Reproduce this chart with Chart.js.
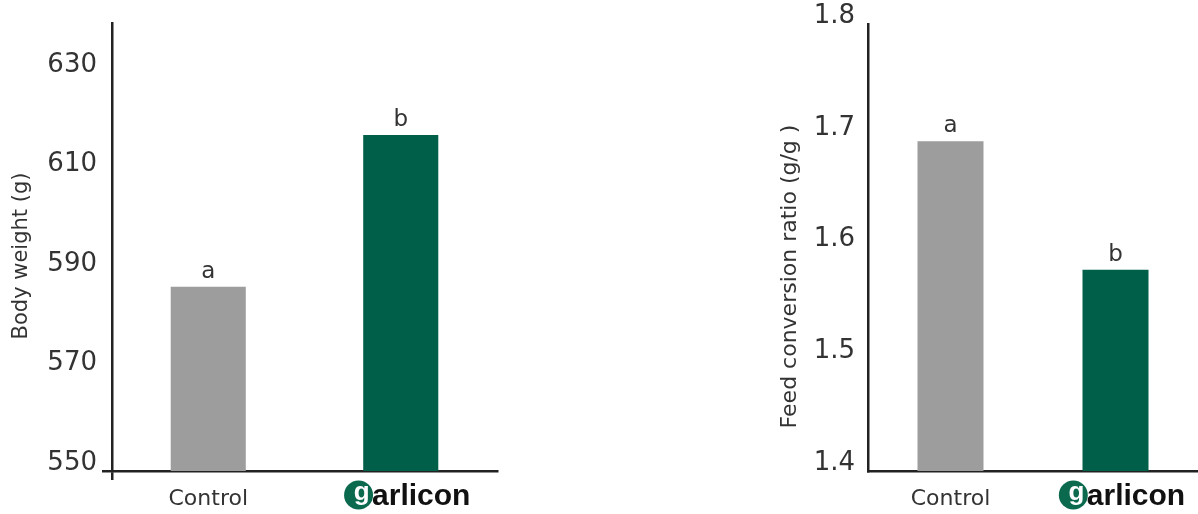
<!DOCTYPE html>
<html>
<head>
<meta charset="utf-8">
<script src="https://cdn.jsdelivr.net/npm/chart.js@4.4.1/dist/chart.umd.min.js"></script>
<style>
  body { margin: 0; background: #fff; }
  .box { position: absolute; top: 0; height: 514px; }
  #left { left: 0; width: 520px; }
  #right { left: 740px; width: 458px; }
</style>
</head>
<body>
<div class="box" id="left"><canvas id="weight"></canvas></div>
<div class="box" id="right"><canvas id="fcr"></canvas></div>
<script>
// data
const groups = ['Control', 'garlicon'];
const bodyWeight = [587, 617.5];
const feedConversion = [1.695, 1.58];
const weightLetters = ['a', 'b'];
const fcrLetters = ['a', 'b'];
const weightTicks = [550, 570, 590, 610, 630];
const fcrTicks = [1.4, 1.5, 1.6, 1.7, 1.8];

const GRAY = '#9d9d9d';
const GREEN = '#005f49';
const INK = '#222';
const FONT = "'DejaVu Sans', sans-serif";

// significance letters above the bars
const lettersPlugin = {
    id: 'letters',
    afterDatasetsDraw(chart, args, opts) {
        const { ctx } = chart;
        const bars = chart.getDatasetMeta(0).data;
        ctx.save();
        ctx.fillStyle = '#333';
        ctx.font = `23px ${FONT}`;
        ctx.textAlign = 'center';
        ctx.textBaseline = 'alphabetic';
        bars.forEach((bar, i) => ctx.fillText(opts.letters[i], bar.x, bar.y - 9));
        ctx.restore();
    },
};

// vertical axis title, placed by hand so it sits like the original
const sideTitle = {
    id: 'sideTitle',
    afterDraw(chart, args, opts) {
        const { ctx, chartArea } = chart;
        ctx.save();
        ctx.translate(opts.x, (chartArea.top + chartArea.bottom) / 2 + opts.dy);
        ctx.rotate(-Math.PI / 2);
        ctx.fillStyle = '#333';
        ctx.font = `${opts.size}px ${FONT}`;
        ctx.textAlign = 'center';
        ctx.textBaseline = 'middle';
        ctx.fillText(opts.text, 0, 0);
        ctx.restore();
    },
};

// garlicon logo used as the second category label
const logoPlugin = {
    id: 'logo',
    afterDraw(chart) {
        const { ctx } = chart;
        const xs = chart.scales.x;
        const cx = xs.getPixelForTick(1) + 7;
        const cy = chart.chartArea.bottom + 24;
        ctx.save();
        ctx.font = `bold 30px 'Liberation Sans', Arial, sans-serif`;
        const rest = groups[1].slice(1);
        const restW = ctx.measureText(rest).width;
        const r = 14.5;
        const total = 2 * r + restW;
        const start = cx - total / 2;
        ctx.fillStyle = '#0b6a4e';
        ctx.beginPath();
        ctx.arc(start + r, cy, r, 0, Math.PI * 2);
        ctx.fill();
        ctx.textBaseline = 'alphabetic';
        ctx.textAlign = 'center';
        ctx.fillStyle = '#fff';
        ctx.font = `bold 26px 'Liberation Sans', Arial, sans-serif`;
        ctx.fillText(groups[1][0], start + r + 3, cy + 5);
        ctx.font = `bold 30px 'Liberation Sans', Arial, sans-serif`;
        ctx.textAlign = 'left';
        ctx.fillStyle = '#111';
        ctx.fillText(rest, start + 2 * r - 1, cy + 10);
        ctx.restore();
    },
};

const makeChart = (el, cfg) => new Chart(document.getElementById(el), {
    type: 'bar',
    data: {
        labels: groups,
        datasets: [{
            data: cfg.values,
            backgroundColor: [GRAY, GREEN],
            barPercentage: cfg.barPct,
            categoryPercentage: 1,
        }],
    },
    options: {
        responsive: true,
        maintainAspectRatio: false,
        animation: false,
        layout: { padding: { top: cfg.top, right: cfg.right, left: 0, bottom: 0 } },
        plugins: {
            legend: { display: false },
            tooltip: { enabled: false },
            letters: { letters: cfg.letters },
            sideTitle: cfg.title,
        },
        scales: {
            x: {
                border: { color: INK, width: 2.5 },
                grid: {
                    offset: true,
                    drawOnChartArea: false,
                    drawTicks: cfg.tickMarks,
                    tickLength: 9,
                    lineWidth: 2.5,
                    color: (c) => (c.index === 0 ? INK : 'rgba(0,0,0,0)'),
                },
                ticks: {
                    color: '#333',
                    font: { family: FONT, size: 22 },
                    padding: cfg.tickMarks ? 6 : 15,
                    callback: (v, i) => (i === 1 ? '' : groups[i]),
                },
                afterFit: (s) => { s.height = 43; s.paddingLeft = 0; s.paddingRight = 0; },
            },
            y: {
                min: cfg.min,
                max: cfg.max,
                border: { color: INK, width: 2.5 },
                grid: {
                    drawOnChartArea: false,
                    drawTicks: cfg.tickMarks,
                    tickLength: 10,
                    lineWidth: 2.5,
                    color: (c) => (c.index === 0 ? INK : 'rgba(0,0,0,0)'),
                },
                afterBuildTicks: (s) => { s.ticks = cfg.ticks.map((v) => ({ value: v })); },
                afterFit: (s) => { s.width = cfg.axisW; s.paddingTop = 0; s.paddingBottom = 0; },
                ticks: {
                    color: '#333',
                    font: { family: FONT, size: 26 },
                    padding: cfg.tickPad,
                    labelOffset: -8,
                    callback: cfg.fmt,
                },
            },
        },
    },
    plugins: [lettersPlugin, sideTitle, logoPlugin],
});

makeChart('weight', {
    values: bodyWeight, letters: weightLetters, ticks: weightTicks,
    min: 550, max: 640, barPct: 0.39, top: 23, right: 23, axisW: 112,
    tickMarks: true, tickPad: 5,
    title: { text: 'Body weight (g)', x: 22, dy: 9, size: 21 },
    fmt: (v) => String(v),
});

makeChart('fcr', {
    values: feedConversion, letters: fcrLetters, ticks: fcrTicks,
    min: 1.4, max: 1.8, barPct: 0.4, top: 24, right: 0, axisW: 128,
    tickMarks: false, tickPad: 13,
    title: { text: 'Feed conversion ratio (g/g )', x: 50, dy: 29, size: 22 },
    fmt: (v) => v.toFixed(1),
});
</script>
</body>
</html>
